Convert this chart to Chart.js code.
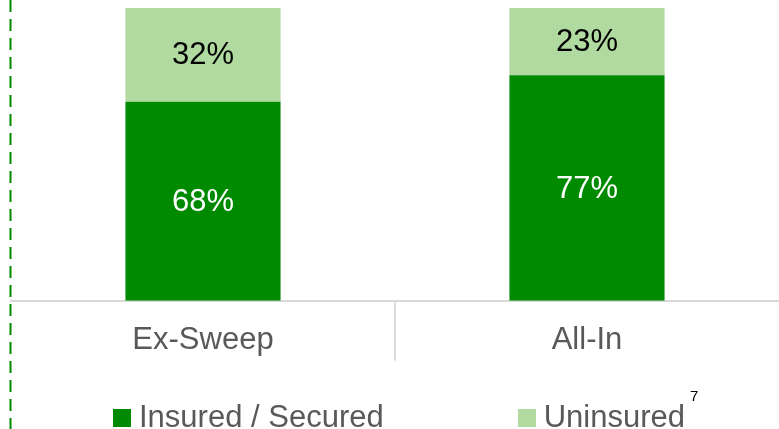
<!DOCTYPE html>
<html>
<head>
<meta charset="utf-8">
<script src="https://cdn.jsdelivr.net/npm/chart.js@4/dist/chart.umd.min.js"></script>
<style>
  html, body { margin: 0; padding: 0; background: #fff; }
  #wrap { position: relative; width: 779px; height: 429px; overflow: hidden; }
  #chart { position: absolute; left: 0; top: 0; }
  #legend {
    position: absolute; left: 113px; top: 402px;
    display: flex; gap: 134px;
    font: 31px "Liberation Sans", Arial, sans-serif; line-height: 30px; color: #595959;
    white-space: nowrap;
  }
  #legend .item { display: flex; align-items: baseline; }
  #legend .box { display: inline-block; width: 18px; height: 18px; margin-right: 8px; position: relative; top: 0px; }
  #legend sup { font-size: 15px; color: #000; position: relative; top: -26px; margin-left: 5px; vertical-align: baseline; }
</style>
</head>
<body>
<div id="wrap">
  <canvas id="chart" width="779" height="429"></canvas>
  <div id="legend"></div>
</div>
<script>
const categories = ['Ex-Sweep', 'All-In'];
const seriesLabels = ['Insured / Secured', 'Uninsured'];
const insured = [68, 77];
const uninsured = [32, 23];
const footnotes = ['', '7'];

const darkGreen = '#008a00';
const lightGreen = '#b0da9f';

// dashed vertical rule on the left edge + separator between categories
const rules = {
  id: 'rules',
  afterDraw(chart) {
    const c = chart.ctx;
    const area = chart.chartArea;
    const xs = chart.scales.x;
    c.save();
    c.strokeStyle = darkGreen;
    c.lineWidth = 2;
    c.setLineDash([12, 7]);
    c.beginPath();
    c.moveTo(area.left - 0.5, 0);
    c.lineTo(area.left - 0.5, chart.height);
    c.stroke();

    c.setLineDash([]);
    c.strokeStyle = '#dcdcdc';
    for (let i = 1; i < categories.length; i++) {
      const x = Math.round((xs.getPixelForTick(i - 1) + xs.getPixelForTick(i)) / 2);
      c.beginPath();
      c.moveTo(x, area.bottom);
      c.lineTo(x, area.bottom + 60);
      c.stroke();
    }
    c.restore();
  }
};

// percentage labels in the middle of each segment
const segLabels = {
  id: 'segLabels',
  afterDatasetsDraw(chart) {
    const c = chart.ctx;
    c.save();
    c.font = '31px "Liberation Sans", Arial, sans-serif';
    c.textAlign = 'center';
    c.textBaseline = 'middle';
    chart.data.datasets.forEach((ds, i) => {
      chart.getDatasetMeta(i).data.forEach((bar, j) => {
        c.fillStyle = i === 0 ? '#ffffff' : '#000000';
        c.fillText(ds.data[j] + '%', bar.x, (bar.y + bar.base) / 2 + 1);
      });
    });
    c.restore();
  }
};

const chart = new Chart(document.getElementById('chart'), {
  type: 'bar',
  data: {
    labels: categories,
    datasets: [
      { label: seriesLabels[0], data: insured, backgroundColor: darkGreen },
      { label: seriesLabels[1], data: uninsured, backgroundColor: lightGreen }
    ]
  },
  options: {
    responsive: false,
    animation: false,
    layout: { padding: { left: 11, right: 0, top: 8, bottom: 49 } },
    datasets: { bar: { barPercentage: 0.404, categoryPercentage: 1 } },
    plugins: {
      legend: { display: false },
      tooltip: { enabled: false }
    },
    scales: {
      x: {
        stacked: true,
        border: { display: true, color: '#d9d9d9', width: 2 },
        grid: { display: false, drawTicks: false },
        ticks: {
          padding: 21,
          color: '#595959',
          font: { family: '"Liberation Sans", Arial, sans-serif', size: 31 }
        }
      },
      y: {
        stacked: true,
        display: false,
        min: 0,
        max: 100
      }
    }
  },
  plugins: [rules, segLabels]
});

// legend built from the datasets
const legendEl = document.getElementById('legend');
chart.data.datasets.forEach((ds, i) => {
  const item = document.createElement('span');
  item.className = 'item';
  const box = document.createElement('span');
  box.className = 'box';
  box.style.background = ds.backgroundColor;
  item.appendChild(box);
  item.appendChild(document.createTextNode(ds.label));
  if (footnotes[i]) {
    const sup = document.createElement('sup');
    sup.textContent = footnotes[i];
    item.appendChild(sup);
  }
  legendEl.appendChild(item);
});
</script>
</body>
</html>
